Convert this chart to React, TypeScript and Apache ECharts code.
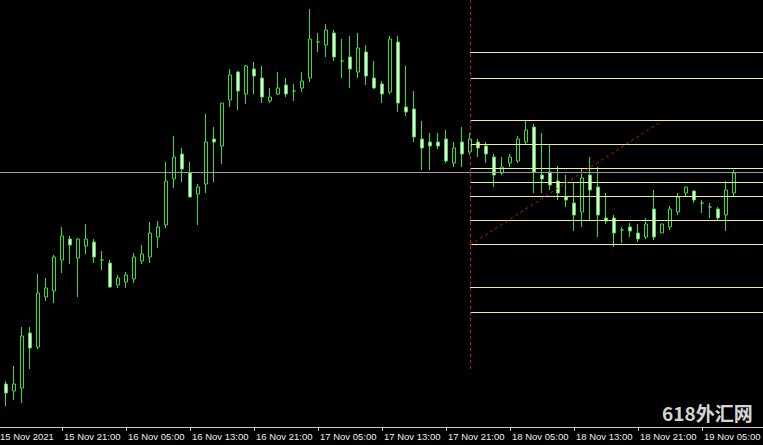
import React, { useEffect, useRef } from "react";
import * as echarts from "echarts";

// Hourly candles, 15 Nov 2021 13:00 onwards (one bar per hour)
const opens = [
  1861.3, 1861.6, 1860.9, 1861.2, 1866.7, 1865.3, 1870.3, 1870.9, 1874.0, 1876.1,
  1874.2, 1875.4, 1875.8, 1874.0, 1873.7, 1871.5, 1871.8, 1872.1, 1873.9, 1874.3,
  1876.3, 1877.5, 1882.1, 1884.6, 1882.7, 1880.6, 1881.6, 1886.1, 1885.4, 1890.0,
  1892.8, 1890.6, 1893.1, 1892.2, 1889.9, 1890.6, 1891.5, 1890.9, 1891.2, 1892.2,
  1895.8, 1895.5, 1896.7, 1893.9, 1894.3, 1892.8, 1894.8, 1892.2, 1891.6, 1890.8,
  1895.8, 1889.3, 1889.1, 1886.1, 1885.8, 1885.8, 1886.1, 1883.7, 1885.8, 1884.8,
  1885.8, 1885.4, 1884.3, 1882.7, 1883.7, 1883.9, 1885.8, 1887.3, 1882.5, 1882.8,
  1881.9, 1880.3, 1879.7, 1878.8, 1882.5, 1881.3, 1878.2, 1878.2, 1877.0, 1877.3,
  1876.7, 1876.3, 1879.1, 1876.7, 1877.3, 1878.8, 1880.7, 1880.9, 1879.7, 1879.3,
  1879.1, 1878.5, 1880.7,
];
const closes = [
  1859.7, 1860.7, 1861.6, 1866.4, 1865.2, 1870.7, 1871.2, 1874.3, 1876.4, 1875.5,
  1876.1, 1876.1, 1874.3, 1874.0, 1871.3, 1872.2, 1872.5, 1874.3, 1874.6, 1876.7,
  1877.3, 1881.9, 1884.3, 1883.1, 1880.3, 1881.3, 1885.8, 1885.8, 1889.7, 1892.5,
  1890.9, 1893.4, 1892.4, 1890.3, 1890.3, 1891.2, 1890.6, 1890.9, 1891.9, 1896.1,
  1895.8, 1897.0, 1894.3, 1893.9, 1893.1, 1895.2, 1892.4, 1891.2, 1890.6, 1896.1,
  1889.7, 1888.8, 1886.3, 1885.2, 1885.4, 1885.4, 1883.9, 1885.2, 1884.6, 1886.1,
  1885.2, 1884.6, 1882.5, 1883.3, 1884.3, 1886.1, 1887.0, 1882.8, 1882.1, 1881.5,
  1880.7, 1880.0, 1878.5, 1882.2, 1881.0, 1878.5, 1877.9, 1876.7, 1877.0, 1876.9,
  1876.1, 1877.6, 1876.3, 1877.6, 1879.1, 1880.3, 1881.3, 1880.0, 1879.7, 1879.3,
  1878.2, 1881.0, 1882.7,
];
const lows = [
  1859.0, 1859.4, 1860.0, 1859.7, 1863.1, 1865.1, 1869.9, 1869.7, 1872.7, 1873.6,
  1870.3, 1874.6, 1873.7, 1873.0, 1871.2, 1871.2, 1871.2, 1871.7, 1873.6, 1873.7,
  1875.2, 1877.2, 1881.2, 1881.8, 1880.3, 1877.5, 1880.7, 1881.8, 1883.6, 1889.3,
  1889.0, 1889.6, 1890.6, 1889.7, 1889.7, 1890.5, 1890.3, 1889.9, 1890.8, 1891.8,
  1894.8, 1894.3, 1893.9, 1892.2, 1891.2, 1892.2, 1891.5, 1891.1, 1889.7, 1890.6,
  1888.8, 1888.4, 1885.8, 1883.0, 1883.0, 1885.1, 1883.7, 1883.3, 1883.3, 1884.5,
  1884.3, 1883.7, 1881.3, 1882.5, 1883.3, 1883.7, 1885.5, 1880.7, 1880.7, 1881.0,
  1880.0, 1879.3, 1876.9, 1877.3, 1877.9, 1876.3, 1877.6, 1875.3, 1875.7, 1876.3,
  1875.8, 1876.1, 1876.0, 1876.7, 1877.0, 1878.5, 1880.3, 1879.7, 1878.7, 1878.2,
  1877.9, 1876.9, 1880.3,
];
const highs = [
  1862.0, 1861.9, 1863.4, 1867.3, 1867.3, 1872.6, 1872.2, 1874.5, 1877.3, 1876.4,
  1876.2, 1877.6, 1876.1, 1874.9, 1874.0, 1872.5, 1872.8, 1874.7, 1875.5, 1877.8,
  1877.9, 1883.8, 1886.4, 1885.2, 1883.8, 1881.6, 1888.6, 1887.3, 1889.7, 1893.1,
  1892.9, 1893.5, 1893.8, 1893.4, 1891.2, 1892.8, 1892.2, 1891.6, 1892.8, 1899.1,
  1896.7, 1897.6, 1897.0, 1896.1, 1896.4, 1896.7, 1895.5, 1893.9, 1891.9, 1896.4,
  1896.4, 1893.4, 1890.9, 1887.9, 1886.7, 1886.7, 1887.0, 1885.8, 1887.3, 1886.7,
  1886.1, 1885.8, 1884.6, 1884.3, 1884.6, 1886.4, 1887.9, 1887.6, 1886.7, 1885.5,
  1883.4, 1882.5, 1881.7, 1883.1, 1884.3, 1883.3, 1880.7, 1878.5, 1877.3, 1877.7,
  1877.6, 1878.2, 1881.0, 1877.6, 1879.4, 1880.7, 1881.3, 1881.0, 1880.0, 1879.7,
  1879.3, 1881.9, 1883.0,
];

// Drawn objects
const hLinePrice = 1882.75;
const fiboLevels = [1894.75, 1892.15, 1887.95, 1885.55, 1883.15, 1881.75, 1880.35, 1877.95, 1875.55, 1871.25, 1868.75];
const fiboStartIndex = 59; // 18 Nov 00:00
const trendStart = { index: 59, price: 1875.5 };
const trendEnd = { index: 83, price: 1887.9 };
const vLineTop = 1900;
const vLineBottom = 1863.0;

const startMs = Date.UTC(2021, 10, 15, 13, 0);
const totalSlots = 97;
const categories: string[] = [];
for (let i = 0; i < totalSlots; i++) {
  const d = new Date(startMs + i * 3600000);
  const dd = d.getUTCDate();
  const hh = String(d.getUTCHours()).padStart(2, "0");
  categories.push(`${dd} Nov ${hh}:00`);
}
const firstLabel = "15 Nov 2021";
const lastLabelIndex = 88; // 19 Nov 05:00

const GREEN = "#3bdc3b";

export default function App() {
  const ref = useRef<HTMLDivElement>(null);
  useEffect(() => {
    document.body.style.margin = "0";
    document.body.style.background = "#000";
    if (!ref.current) return;
    const chart = echarts.init(ref.current, undefined, { renderer: "svg" });
    const ohlc = opens.map((o, i) => [o, closes[i], lows[i], highs[i]]);
    const showLabel = (idx: number) => idx === 0 || (idx % 8 === 0 && idx <= lastLabelIndex);
    const yellow = () => ({ color: "#f2ee8c", type: "solid", width: 1, opacity: 1 });
    const red = () => ({ color: "#b52020", type: [3, 3], width: 1, opacity: 1 });
    const lastIdx = totalSlots - 1;
    const markData: any[] = [
      { yAxis: hLinePrice, lineStyle: { color: "#9a9aae", type: "solid", width: 1, opacity: 1 } },
      ...fiboLevels.map((v) => [
        { coord: [fiboStartIndex, v], lineStyle: yellow() },
        { coord: [lastIdx, v], lineStyle: yellow() },
      ]),
      [
        { coord: [fiboStartIndex, vLineTop], lineStyle: red() },
        { coord: [fiboStartIndex, vLineBottom], lineStyle: red() },
      ],
      [
        { coord: [trendStart.index, trendStart.price], lineStyle: red() },
        { coord: [trendEnd.index, trendEnd.price], lineStyle: red() },
      ],
    ];
    chart.setOption({
      animation: false,
      backgroundColor: "#000",
      grid: {
        left: -6,
        top: 0,
        width: 776,
        height: 427,
        containLabel: false,
        outerBoundsMode: "none",
      },
      xAxis: {
        type: "category",
        data: categories,
        boundaryGap: true,
        axisLine: { show: true, lineStyle: { color: "#c8c8c8", width: 1 } },
        axisTick: {
          show: true,
          alignWithLabel: true,
          length: 4,
          interval: (idx: number) => idx > 0 && showLabel(idx),
          lineStyle: { color: "#c8c8c8" },
        },
        axisLabel: {
          show: true,
          interval: (idx: number) => showLabel(idx),
          align: "left",
          margin: 4,
          padding: [0, 0, 0, 2],
          color: "#ececec",
          fontSize: 9.5,
          fontFamily: "Liberation Sans",
          hideOverlap: false,
          formatter: (v: string, idx: number) => (idx === 0 ? firstLabel : v),
        },
        splitLine: { show: false },
      },
      yAxis: {
        type: "value",
        min: 1857.3,
        max: 1900,
        show: false,
        splitLine: { show: false },
      },
      series: [
        {
          type: "candlestick",
          data: ohlc,
          barWidth: 4,
          itemStyle: {
            color: "#000000",
            color0: "#f2fff2",
            borderColor: GREEN,
            borderColor0: GREEN,
            borderColorDoji: GREEN,
            borderWidth: 1,
          },
          markLine: {
            silent: true,
            symbol: ["none", "none"],
            label: { show: false },
            emphasis: { disabled: true },
            animation: false,
            data: markData,
          },
        },
      ],
      graphic: [
        {
          type: "text",
          left: 662,
          top: 403,
          style: {
            text: "618外汇网",
            fill: "rgba(236,236,236,0.92)",
            font: 'bold 19px "Noto Sans CJK SC"',
          },
        },
      ],
    });
    return () => chart.dispose();
  }, []);
  return <div ref={ref} style={{ width: 763, height: 445, background: "#000" }} />;
}
